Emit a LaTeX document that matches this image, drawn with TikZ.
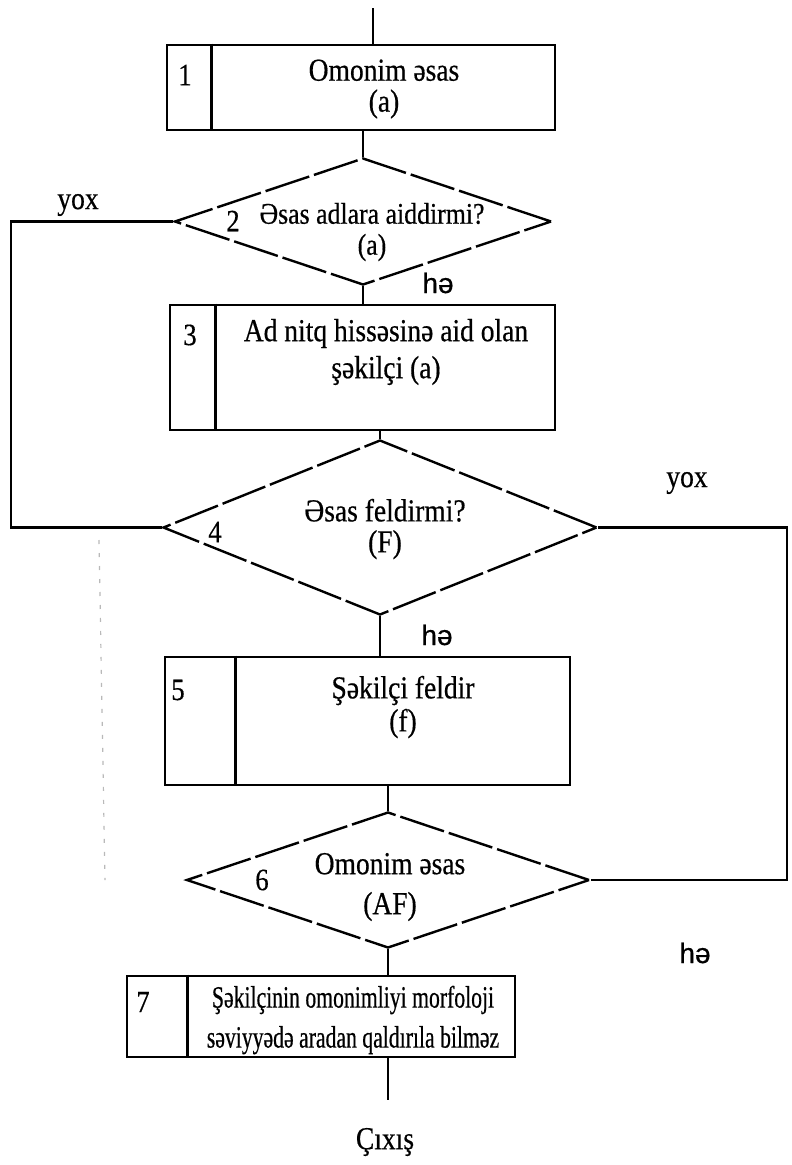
\documentclass[tikz,border=0pt]{standalone}
\usepackage{fontspec}
\setmainfont[FakeStretch=0.86,FakeBold=0.5]{Liberation Serif}
\newfontfamily\labelsans[FakeBold=0.6]{Liberation Sans}
\newfontfamily\narrowserif[FakeStretch=0.70,FakeBold=0.5]{Liberation Serif}
\usetikzlibrary{shapes.geometric}

\begin{document}
\begin{tikzpicture}[x=1pt,y=-1pt,
  line width=2.4pt, line join=miter,
  blockbox/.style={draw, rectangle, inner sep=0pt, line width=2.6pt},
  decision/.style={draw, diamond, inner sep=0pt, line width=2.4pt, dash pattern=on 46pt off 5pt},
  numtext/.style={font=\fontsize{31}{32}\selectfont, inner sep=0pt},
  bodytext/.style={font=\fontsize{32}{31}\selectfont, align=center, inner sep=0pt},
  answer/.style={font=\labelsans\fontsize{28}{28}\selectfont, inner sep=0pt},
  noanswer/.style={font=\fontsize{32}{32}\selectfont, inner sep=0pt},
  divider/.style={line width=3.4pt}
]
\useasboundingbox (0,0) rectangle (792,1165);

% block 1
\node[blockbox, minimum width=388pt, minimum height=85pt] (b1) at (361,87.5) {};
\draw[divider] ([xshift=46pt]b1.north west) -- ([xshift=46pt]b1.south west);
\node[numtext] (n1) at (185,75) {1};
\node[bodytext] (t1) at (384,89) {Omonim əsas\\(a)};

% decision 2
\node[decision, minimum width=377pt, minimum height=127pt] (d2) at (363,221.5) {};
\node[numtext] (n2) at (233,221) {2};
\node[bodytext, font=\fontsize{30}{31}\selectfont] (t2) at (372,232) {Əsas adlara aiddirmi?\\(a)};

% block 3
\node[blockbox, minimum width=385pt, minimum height=125pt] (b3) at (362.5,367.5) {};
\draw[divider] ([xshift=47pt]b3.north west) -- ([xshift=47pt]b3.south west);
\node[numtext] (n3) at (190,335) {3};
\node[bodytext, font=\fontsize{32}{37}\selectfont] (t3) at (386,352) {Ad nitq hissəsinə aid olan\\şəkilçi (a)};

% decision 4
\node[decision, minimum width=434pt, minimum height=175pt] (d4) at (380,527.5) {};
\node[numtext] (n4) at (215,532) {4};
\node[bodytext, font=\fontsize{32}{31}\selectfont] (t4) at (385,529) {Əsas feldirmi?\\(F)};

% block 5
\node[blockbox, minimum width=405pt, minimum height=128pt] (b5) at (367.5,721) {};
\draw[divider] ([xshift=72pt]b5.north west) -- ([xshift=72pt]b5.south west);
\node[numtext] (n5) at (178,690) {5};
\node[bodytext, font=\fontsize{32}{33}\selectfont] (t5) at (403,707) {Şəkilçi feldir\\(f)};

% decision 6
\node[decision, minimum width=403pt, minimum height=136pt] (d6) at (388,880) {};
\node[numtext] (n6) at (262,880) {6};
\node[bodytext, font=\fontsize{32}{40}\selectfont] (t6) at (390,887) {Omonim əsas\\(AF)};

% block 7
\node[blockbox, minimum width=388pt, minimum height=81pt] (b7) at (321,1016.5) {};
\draw[divider] ([xshift=62pt]b7.north west) -- ([xshift=62pt]b7.south west);
\node[numtext] (n7) at (143,1002) {7};
\node[bodytext, font=\narrowserif\fontsize{31}{40}\selectfont] (t7) at (353,1020) {Şəkilçinin omonimliyi morfoloji\\səviyyədə aradan qaldırıla bilməz};

% main flow
\coordinate (entry) at (373,8);
\coordinate (exit) at (388,1100);
\draw (entry) -- (entry |- b1.north);
\draw (d2.north) -- (d2.north |- b1.south);
\draw (d2.south) -- (d2.south |- b3.north);
\draw (d4.north) -- (d4.north |- b3.south);
\draw (d4.south) -- (d4.south |- b5.north);
\draw (d6.north) -- (d6.north |- b5.south);
\draw (d6.south) -- (d6.south |- b7.north);
\draw (exit |- b7.south) -- (exit);

% bypass branches
\coordinate (lx) at (11,0);
\coordinate (rx) at (787,0);
\draw (d2.west) -| (lx |- d4.west) -- (d4.west);
\draw (d4.east) -| (rx |- d6.east) -- (d6.east);

% branch labels
\node[noanswer] (y2) at (78,205) {yox};
\node[answer] (h2) at (438,283) {hə};
\node[noanswer] (y4) at (687,483) {yox};
\node[answer] (h4) at (437,635) {hə};
\node[answer] (h6) at (695,953) {hə};

\node[bodytext] (out) at (385,1142) {Çıxış};

% faint dotted trace on the left
\draw[gray!55, line width=1.2pt, dash pattern=on 4pt off 9pt] (99,540) -- (105,880);
\end{tikzpicture}
\end{document}
